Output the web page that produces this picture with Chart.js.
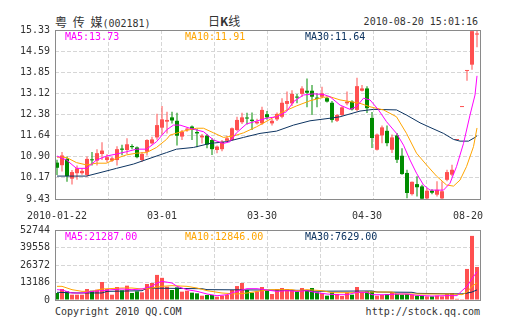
<!DOCTYPE html>
<html>
<head>
<meta charset="utf-8">
<script src="https://cdn.jsdelivr.net/npm/chart.js@4.4.1/dist/chart.umd.min.js"></script>
<style>
  body { margin: 0; background: #fff; width: 505px; height: 330px; overflow: hidden; position: relative;
         font-family: "DejaVu Sans Mono", monospace; color: #333; }
  canvas { position: absolute; left: 0; top: 0; }
  .txt { position: absolute; font-size: 10px; line-height: 12px; white-space: pre; }
  .cjk { font-family: "Noto Sans CJK SC", sans-serif; font-size: 12px; line-height: 14px; }
</style>
</head>
<body>
<div class="txt" style="left:55px;top:15px"><span class="cjk" style="word-spacing:3px">粤 传 媒</span>(002181)</div>
<div class="txt cjk" style="left:208px;top:14px">日<b>K</b>线</div>
<div class="txt" style="right:27px;top:16px">2010-08-20 15:01:16</div>
<div class="txt" style="left:55px;top:306px">Copyright 2010 QQ.COM</div>
<div class="txt" style="right:25px;top:306px">http://stock.qq.com</div>
<canvas id="kline" width="505" height="330"></canvas>
<canvas id="vol" width="505" height="330"></canvas>
<script>
// ---- daily K data, 2010-01-22 .. 2010-08-20 (one entry per trading day) ----
const opens = [
  10.70, 10.61, 10.83, 10.14, 10.33, 10.33, 10.27, 10.81, 10.77, 11.00,
  10.79, 10.77, 10.79, 11.19, 11.14, 11.28, 11.23, 10.79, 11.08, 11.37,
  11.58, 11.92, 12.13, 12.28, 12.16, 11.61, 11.85, 11.96, 11.77, 11.58,
  11.64, 11.49, 11.14, 11.17, 11.46, 11.49, 11.84, 12.11, 12.27, 12.20,
  12.07, 12.07, 12.39, 12.07, 12.21, 12.30, 12.75, 12.77, 13.00, 13.10,
  13.21, 13.21, 12.97, 13.00, 12.95, 12.79, 12.16, 12.36, 12.77, 12.83,
  12.54, 13.21, 13.29, 12.26, 11.15, 11.65, 11.81, 11.15, 11.65, 10.94,
  10.34, 9.60, 9.95, 9.87, 9.45, 9.72, 9.58, 9.45, 10.10, 10.28,
  11.49, 12.64, 13.90, 14.12, 15.17
];
const highs = [
  10.80, 11.07, 10.91, 10.44, 10.60, 10.50, 10.91, 11.07, 11.17, 11.41,
  10.99, 10.90, 11.27, 11.32, 11.55, 11.34, 11.26, 11.07, 11.52, 11.60,
  12.41, 12.68, 12.48, 12.48, 12.44, 11.84, 11.93, 12.00, 11.88, 11.70,
  11.70, 11.55, 11.30, 11.49, 11.64, 11.93, 12.30, 12.44, 12.44, 12.45,
  12.23, 12.65, 12.50, 12.23, 12.45, 12.95, 13.18, 13.23, 13.10, 13.37,
  13.64, 13.41, 13.12, 13.35, 13.00, 12.85, 12.40, 12.67, 13.18, 12.88,
  13.66, 13.41, 13.37, 12.47, 11.72, 12.00, 12.00, 11.68, 11.73, 11.20,
  10.45, 10.04, 10.22, 9.93, 9.81, 9.77, 10.05, 10.05, 10.45, 10.63,
  11.49, 12.64, 13.90, 15.29, 15.31
];
const lows = [
  10.27, 10.39, 10.03, 9.94, 10.10, 10.28, 10.21, 10.60, 10.60, 10.79,
  10.70, 10.72, 10.60, 10.96, 11.00, 11.17, 10.85, 10.72, 10.95, 11.33,
  11.50, 11.68, 11.72, 12.07, 11.30, 11.49, 11.78, 11.49, 11.24, 11.37,
  11.20, 10.97, 11.03, 11.10, 11.40, 11.47, 11.80, 12.05, 12.03, 11.84,
  12.03, 12.01, 12.20, 12.00, 12.15, 12.25, 12.54, 12.68, 12.77, 13.00,
  12.63, 12.36, 12.63, 12.95, 12.80, 12.10, 12.12, 12.33, 12.70, 12.52,
  12.49, 13.18, 12.43, 11.21, 11.12, 11.38, 11.27, 11.04, 10.69, 10.28,
  9.46, 9.55, 9.52, 9.40, 9.40, 9.60, 9.52, 9.40, 10.05, 10.22,
  11.49, 12.64, 13.56, 13.94, 14.73
];
const closes = [
  10.52, 10.95, 10.23, 10.37, 10.50, 10.41, 10.83, 10.78, 11.03, 11.12,
  10.89, 10.85, 11.17, 11.15, 11.34, 11.24, 10.89, 11.00, 11.49, 11.51,
  12.01, 12.21, 12.19, 12.17, 11.64, 11.78, 11.87, 11.84, 11.72, 11.64,
  11.33, 11.17, 11.26, 11.43, 11.55, 11.90, 12.19, 12.28, 12.24, 12.15,
  12.13, 12.54, 12.28, 12.16, 12.40, 12.79, 12.85, 13.10, 12.97, 13.29,
  13.14, 13.00, 12.93, 13.12, 12.83, 12.19, 12.36, 12.63, 12.83, 12.56,
  13.37, 13.29, 12.60, 11.56, 11.68, 11.93, 11.38, 11.58, 10.80, 10.30,
  9.64, 10.03, 9.84, 9.44, 9.72, 9.65, 9.75, 9.70, 10.37, 10.45,
  11.49, 12.64, 13.90, 15.29, 15.21
];
const volumes = [
  5270, 8290, 6530, 4000, 4000, 4000, 8290, 7030, 7780, 13560,
  8290, 4000, 9800, 7280, 10800, 5270, 6530, 5780, 12060, 12800,
  18900, 16700, 10040, 7530, 9540, 6280, 7030, 5520, 5020, 3260,
  3770, 3770, 2510, 3260, 3770, 7530, 10500, 12800, 7530, 5500,
  6500, 9800, 7300, 4520, 8290, 9040, 8290, 7030, 6530, 9040,
  7030, 9040, 5780, 5270, 3260, 5780, 4520, 3010, 5780, 4000,
  9800, 6030, 6530, 6530, 3260, 3760, 4520, 5780, 4520, 4000,
  4520, 4000, 3260, 3260, 2760, 2760, 3260, 2760, 4520, 5270,
  900, 600, 23400, 48300, 24900
];

// moving averages as drawn: [day index, value]
const ma5 = [[0,10.93],[1.9,10.79],[3.9,10.50],[5.9,10.50],[7.9,10.79],[9.9,10.93],[11.9,11.00],[13.9,11.08],
  [15.9,11.17],[17.9,11.17],[19.9,11.43],[21.9,11.84],[23.3,12.01],[24.6,12.01],[26.6,11.90],[27.9,11.84],
  [29.3,11.78],[31.3,11.49],[33.3,11.37],[34.6,11.43],[35.9,11.74],[37.9,12.05],[39.9,12.15],[41.9,12.25],
  [43.9,12.30],[45.9,12.48],[47.3,12.83],[49.3,13.06],[51.3,13.10],[53.3,13.08],[54.6,13.00],[56.6,12.71],
  [58.6,12.56],[59.9,12.65],[61.3,12.95],[62.6,12.89],[64.3,12.54],[65.9,12.13],[67.9,11.72],[69.3,11.31],
  [70.6,10.79],[71.9,10.33],[73.3,9.92],[74.6,9.74],[77.3,9.74],[78.6,9.98],[79.9,10.56],[81.3,11.37],
  [82.6,12.36],[83.6,13.06],[84,13.73]];
const ma10 = [[0,10.89],[1.9,10.88],[3.9,10.70],[5.9,10.62],[7.9,10.68],[9.9,10.68],[11.9,10.85],[13.9,10.97],
  [15.9,11.03],[17.9,11.05],[19.9,11.23],[21.9,11.51],[22.6,11.66],[25.3,11.80],[27.9,11.90],[29.3,11.90],
  [31.3,11.74],[33.3,11.58],[35.3,11.63],[37.3,11.74],[39.9,11.95],[42.6,12.21],[45.3,12.48],[47.9,12.68],
  [50.6,12.86],[53.3,12.98],[54.6,13.00],[56.6,12.89],[60.6,12.77],[62.6,12.65],[65.3,12.54],[67.9,12.30],
  [69.9,11.72],[71.9,11.03],[73.9,10.62],[75.9,10.23],[77.9,9.92],[79.3,9.88],[80.6,10.09],[81.9,10.56],
  [83.3,11.26],[84,11.91]];
const ma30 = [[0,10.23],[5.9,10.23],[8.6,10.35],[11.9,10.50],[15.3,10.65],[18.6,10.85],[21.9,11.05],[23.9,11.17],
  [27.3,11.23],[30.6,11.37],[33.9,11.43],[37.3,11.58],[40.6,11.72],[43.9,11.80],[47.3,12.01],[50.6,12.16],
  [54.6,12.25],[56.6,12.30],[60.6,12.50],[63.3,12.56],[67.9,12.54],[69.9,12.36],[72.6,12.09],[74.6,11.93],
  [77.3,11.72],[79.3,11.51],[80.6,11.45],[82.3,11.45],[83.6,11.58],[84,11.64]];

const volMa5 = [[0,7780],[1,7500],[3,5270],[5,5270],[7,6500],[9,7030],[11,7780],[13,8290],[15,7780],[17,8290],
  [19,10300],[20,12800],[21,14060],[23,12800],[24,10300],[26,7780],[28,6530],[30,4520],[32,3260],[34,4000],
  [36,6530],[38,8540],[40,8540],[42,7500],[44,6500],[46,7000],[48,6500],[50,7000],[52,5500],[54,4500],
  [56,4000],[58,4000],[60,5800],[62,5800],[63,4000],[66,4000],[68,4500],[70,4500],[72,3500],[75,3000],
  [78,3300],[80,3300],[81,7000],[82,10300],[83,16000],[84,21287]];
const volMa10 = [[0,10300],[1,10300],[2,9040],[3,7780],[5,6530],[7,6530],[9,8290],[13,9040],[15,9040],[17,8290],
  [19,9040],[21,10300],[23,10800],[26,10300],[28,9040],[30,7030],[33,5270],[36,4520],[38,5270],[41,7030],
  [43,7780],[47,7780],[48,7030],[50,7780],[53,7030],[55,5520],[60,5520],[61,6000],[67,6000],[68,4520],
  [79,4520],[81,4000],[82,6000],[83,10300],[84,12846]];
const volMa30 = [[0,5800],[4,5300],[9,5300],[10,6500],[17,7000],[18,9000],[29,8500],[30,7800],[42,7500],[50,7200],
  [51,6600],[63,6800],[64,6000],[71,5800],[72,5000],[81,4600],[82,5200],[83,6000],[84,7629]];

const priceTicks = ['15.33', '14.59', '13.85', '13.12', '12.38', '11.64', '10.90', '10.17', '9.43'];
const volTicks = ['52744', '39558', '26372', '13186', '0'];
const dateLabels = ['2010-01-22', '03-01', '03-30', '04-30', '08-20'];
const dateLabelDay = [0, 21, 41, 62, 84];
const priceLegend = ['MA5:13.73', 'MA10:11.91', 'MA30:11.64'];
const volLegend = ['MA5:21287.00', 'MA10:12846.00', 'MA30:7629.00'];

// ---- styling ----
const RED = '#ff5050', GREEN = '#008c00';
const MA_COLORS = ['#ff00ff', '#ffa500', '#0d3461'];
const GRID = '#d6d6d6';
const N = closes.length;
const candleColor = closes.map((c, i) => (c >= opens[i] ? RED : GREEN));

Chart.defaults.font.family = '"DejaVu Sans Mono", monospace';
Chart.defaults.font.size = 10;
Chart.defaults.color = '#333';
Chart.defaults.animation = false;

// frame, MA legend and date labels
const overlay = {
  id: 'overlay',
  afterDraw(chart, args, opts) {
    const { ctx, chartArea: a } = chart;
    ctx.save();
    ctx.strokeStyle = '#8a8a8a';
    ctx.lineWidth = 1;
    ctx.strokeRect(a.left + 0.5, a.top + 0.5, Math.round(a.right - a.left), Math.round(a.bottom - a.top));
    ctx.font = '10px "DejaVu Sans Mono"';
    ctx.textBaseline = 'middle';
    opts.legend.forEach((t, k) => {
      ctx.fillStyle = MA_COLORS[k];
      ctx.fillText(t, a.left + 10 + k * 120, a.top + 7);
    });
    if (opts.dates) {
      const xs = chart.scales.x;
      ctx.fillStyle = '#333';
      dateLabels.forEach((t, k) => {
        const w = ctx.measureText(t).width;
        let left = xs.getPixelForValue(dateLabelDay[k]) - w / 2;
        left = Math.min(left, a.right + 3 - w);
        ctx.fillText(t, left, a.bottom + 17);
      });
    }
    ctx.restore();
  }
};

const gridX = s => {
  s.ticks = Array.from({ length: 9 }, (_, k) => ({ value: s.min + k * (s.max - s.min) / 8 }));
};
const evenTicks = labels => s => {
  const n = labels.length - 1;
  s.ticks = labels.map((_, k) => ({ value: s.max - k * (s.max - s.min) / n }));
};

const xAxis = () => ({
  type: 'linear', min: -0.4, max: N - 0.4, offset: false,
  grid: { color: GRID, drawTicks: false, offset: false },
  border: { display: false, dash: [4, 2] },
  ticks: { display: false },
  afterBuildTicks: gridX,
  afterFit: s => { s.height = 0; }
});
const yAxis = (min, max, labels) => ({
  type: 'linear', min, max, beginAtZero: false,
  grid: { color: GRID, drawTicks: false },
  border: { display: false, dash: [4, 2] },
  ticks: { padding: 5, autoSkip: false, color: '#333', callback: (v, k) => labels[k] },
  afterBuildTicks: evenTicks(labels),
  afterFit: s => { s.width = 55; }
});
const maLine = (pts, color) => ({
  type: 'line', data: pts.map(([x, y]) => ({ x, y })),
  borderColor: color, borderWidth: 1, pointRadius: 0, tension: 0, order: 0
});
const barOpts = { grouped: false, inflateAmount: 0, borderWidth: 0 };

new Chart(document.getElementById('kline'), {
  type: 'bar',
  data: {
    datasets: [
      { ...barOpts, data: lows.map((l, i) => ({ x: i, y: [l, highs[i]] })),
        backgroundColor: candleColor, barThickness: 1, maxBarThickness: 1, order: 2 },
      { ...barOpts, data: opens.map((o, i) => ({ x: i, y: [o, closes[i]] })),
        backgroundColor: candleColor, barThickness: 4, maxBarThickness: 4, minBarLength: 1, order: 1 },
      maLine(ma5, MA_COLORS[0]),
      maLine(ma10, MA_COLORS[1]),
      maLine(ma30, MA_COLORS[2])
    ]
  },
  options: {
    responsive: false,
    layout: { padding: { top: 30, right: 25, bottom: 131, left: 0 } },
    plugins: { legend: { display: false }, tooltip: { enabled: false },
               overlay: { legend: priceLegend, dates: true } },
    scales: { x: xAxis(), y: yAxis(9.43, 15.33, priceTicks) }
  },
  plugins: [overlay]
});

new Chart(document.getElementById('vol'), {
  type: 'bar',
  data: {
    datasets: [
      { ...barOpts, data: volumes.map((v, i) => ({ x: i, y: v })),
        backgroundColor: candleColor, barThickness: 4, maxBarThickness: 4, order: 1 },
      maLine(volMa5, MA_COLORS[0]),
      maLine(volMa10, MA_COLORS[1]),
      maLine(volMa30, MA_COLORS[2])
    ]
  },
  options: {
    responsive: false,
    layout: { padding: { top: 230, right: 25, bottom: 30, left: 0 } },
    plugins: { legend: { display: false }, tooltip: { enabled: false },
               overlay: { legend: volLegend, dates: false } },
    scales: { x: xAxis(), y: yAxis(0, 52744, volTicks) }
  },
  plugins: [overlay]
});
</script>
</body>
</html>
